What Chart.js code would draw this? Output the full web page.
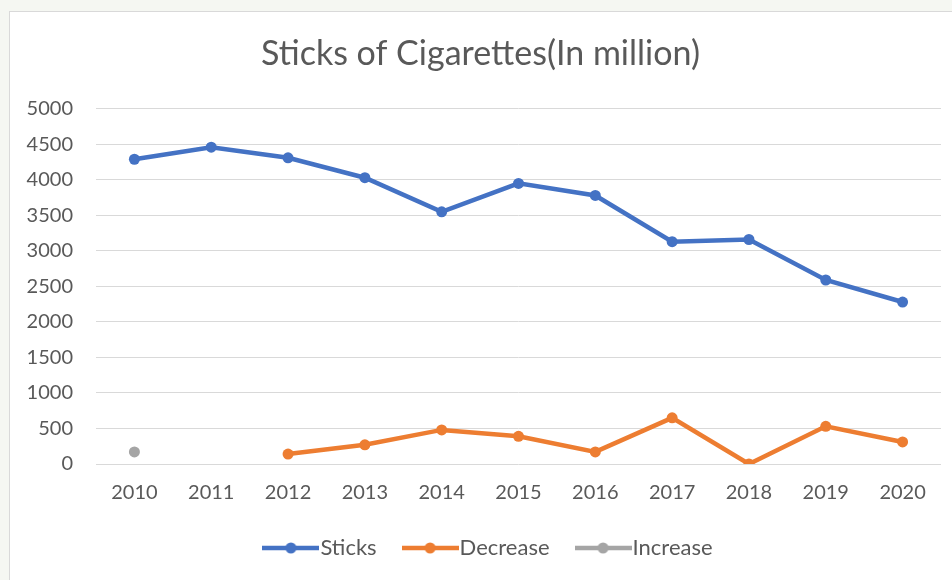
<!DOCTYPE html>
<html>
<head>
<meta charset="utf-8">
<script src="https://cdn.jsdelivr.net/npm/chart.js@4/dist/chart.umd.min.js"></script>
<style>
  html, body { margin: 0; padding: 0; background: #f5f7f2; }
  #frame {
    position: absolute; left: 9px; top: 11px; width: 960px; height: 600px;
    background: #fff; border: 1px solid #d9d9d9;
  }
  #wrap { position: absolute; left: 0; top: 0; width: 952px; height: 580px; }
</style>
</head>
<body>
<div id="frame"></div>
<div id="wrap"><canvas id="myChart" width="952" height="580"></canvas></div>
<script>
// years on the x axis
const years = ["2010", "2011", "2012", "2013", "2014", "2015", "2016", "2017", "2018", "2019", "2020"];
// sticks sold per year, in million
const sticks = [4290, 4460, 4310, 4030, 3550, 3950, 3780, 3130, 3160, 2590, 2280];
// year on year drop
const decrease = [null, null, 140, 270, 480, 390, 170, 650, 0, 530, 310];
// year on year rise
const increase = [170, null, null, null, null, null, null, null, null, null, null];
const yTicks = [0, 500, 1000, 1500, 2000, 2500, 3000, 3500, 4000, 4500, 5000];

const blue = "#4472C4";
const orange = "#ED7D31";
const grey = "#A5A5A5";

// little line + dot swatch for the legend
function swatch(color) {
  let c = document.createElement("canvas");
  c.width = 57;
  c.height = 12;
  let g = c.getContext("2d");
  g.strokeStyle = color;
  g.lineWidth = 4.5;
  g.beginPath();
  g.moveTo(0, 6);
  g.lineTo(57, 6);
  g.stroke();
  g.fillStyle = color;
  g.beginPath();
  g.arc(28.5, 6, 5.5, 0, Math.PI * 2);
  g.fill();
  return c;
}

// nudge the legend a bit to the right, under the plot
const legendShift = {
  id: "legendShift",
  afterLayout: function(chart) {
    chart.legend.left += 12;
    chart.legend.right += 12;
  }
};

function draw() {
  Chart.defaults.font.family = "Lato, 'Open Sans', sans-serif";
  Chart.defaults.color = "#595959";
  let ctx = document.getElementById("myChart").getContext("2d");
  let swatches = [swatch(blue), swatch(orange), swatch(grey)];
  new Chart(ctx, {
    type: "line",
    data: {
      labels: years,
      datasets: [
        {
          label: "Sticks",
          data: sticks,
          borderColor: blue,
          backgroundColor: blue,
          borderWidth: 4.5,
          pointRadius: 5.5,
          pointBorderWidth: 0
        },
        {
          label: "Decrease",
          data: decrease,
          borderColor: orange,
          backgroundColor: orange,
          borderWidth: 4.5,
          pointRadius: 5.5,
          pointBorderWidth: 0
        },
        {
          label: "Increase",
          data: increase,
          borderColor: grey,
          backgroundColor: grey,
          borderWidth: 4.5,
          pointRadius: 5.5,
          pointBorderWidth: 0
        }
      ]
    },
    plugins: [legendShift],
    options: {
      responsive: false,
      animation: false,
      layout: { padding: { left: 20, right: 11, top: 0, bottom: 11 } },
      plugins: {
        title: {
          display: true,
          text: "Sticks of Cigarettes(In million)",
          color: "#595959",
          font: { size: 34, weight: "normal" },
          padding: { top: 34, bottom: 34 }
        },
        legend: {
          position: "bottom",
          labels: {
            usePointStyle: true,
            pointStyleWidth: 37,
            padding: 35,
            font: { size: 22 },
            color: "#595959",
            generateLabels: function(chart) {
              let items = Chart.defaults.plugins.legend.labels.generateLabels(chart);
              items.forEach(function(it, i) { it.pointStyle = swatches[i]; });
              return items;
            }
          }
        },
        tooltip: { enabled: false }
      },
      scales: {
        x: {
          offset: true,
          grid: { display: false, drawTicks: false },
          border: { display: false },
          ticks: { padding: 17, font: { size: 20 }, maxRotation: 0 },
          afterFit: function(scale) { scale.height = 38; }
        },
        y: {
          min: 0,
          max: 5000,
          afterBuildTicks: function(scale) {
            scale.ticks = yTicks.map(function(v) { return { value: v }; });
          },
          grid: { color: "#d9d9d9", lineWidth: 1, drawTicks: false },
          border: { display: false },
          ticks: {
            padding: 23,
            font: { size: 20 },
            callback: function(v) { return String(v); }
          },
          afterFit: function(scale) { scale.width = 76; }
        }
      }
    }
  });
}

document.fonts.load("20px Lato").then(draw, draw);
</script>
</body>
</html>
